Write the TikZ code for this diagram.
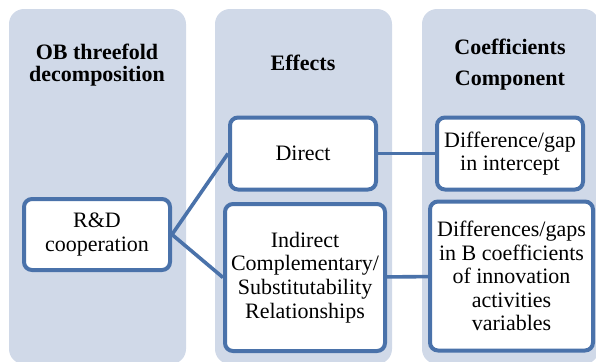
\documentclass[tikz,border=0pt]{standalone}
\usepackage{fontspec}
\setmainfont{Liberation Serif}
\definecolor{colfill}{HTML}{D0D9E8}
\definecolor{boxline}{HTML}{4A72AA}
\tikzset{
  column/.style={fill=colfill, rounded corners=7.5pt},
  item/.style={draw=boxline, line width=2pt, fill=white, rounded corners=4pt,
    align=center, inner sep=1pt},
  head/.style={align=center, font=\rmfamily\fontsize{11}{11}\selectfont\bfseries},
  link/.style={draw=boxline, line width=1.8pt}
}
\begin{document}
\begin{tikzpicture}[x=0.5pt, y=-0.5pt, font=\rmfamily\fontsize{11}{11.8}\selectfont]
  \useasboundingbox (0,0) rectangle (596,361);
  \clip (0,0) rectangle (596,361);
  % columns
  \fill[column] (9,9) rectangle (186,364);
  \fill[column] (215,9) rectangle (392,364);
  \fill[column] (422,9) rectangle (599,364);
  % headings
  \node[head] (h1) at (97,65.5) {OB threefold\\decomposition};
  \node[head] (h2) at (303,63) {Effects};
  \node[head] (h3) at (510,64.5) {Coefficients\\[4.5pt]Component};
  % boxes
  \node[item, minimum width=73pt, minimum height=35.5pt] (rd) at (97,234.5) {R\&D\\cooperation};
  \node[item, minimum width=73pt, minimum height=36pt] (direct) at (303,153.5) {Direct};
  \node[item, minimum width=80pt, minimum height=73.5pt] (indirect) at (305,277.5)
    {Indirect\\Complementary/\\Substitutability\\Relationships};
  \node[item, minimum width=73pt, minimum height=36pt] (gap) at (510,153.5) {Difference/gap\\in intercept};
  \node[item, minimum width=81.5pt, minimum height=74.5pt] (gaps) at (511.5,276)
    {Differences/gaps\\in B coefficients\\of innovation\\activities\\variables};
  % links
  \draw[link] (rd.east) -- (direct.west);
  \draw[link] (rd.east) -- (indirect.west);
  \draw[link] (direct) -- (gap);
  \draw[link] (indirect) -- (gaps);
\end{tikzpicture}
\end{document}
